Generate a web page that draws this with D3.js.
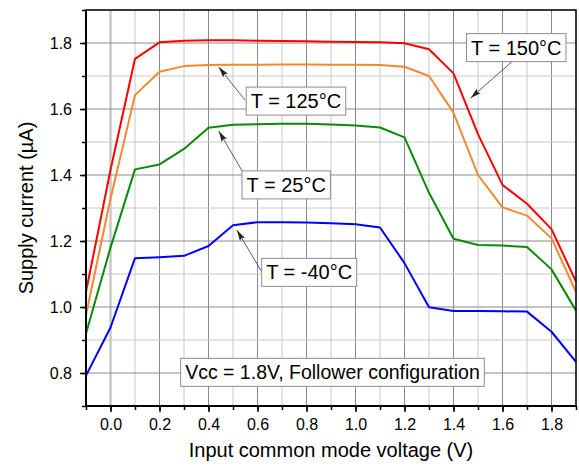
<!DOCTYPE html>
<html>
<head>
<meta charset="utf-8">
<script src="https://cdn.jsdelivr.net/npm/d3@7"></script>
<style>
  body { margin: 0; background: #fff; }
  svg text { font-family: "Liberation Sans", Arial, sans-serif; fill: #000; }
</style>
</head>
<body>
<div id="chart"></div>
<script>
// input common mode voltage (V)
const voltage = [-0.1, 0.0, 0.1, 0.2, 0.3, 0.4, 0.5, 0.6, 0.7, 0.8, 0.9, 1.0, 1.1, 1.2, 1.3, 1.4, 1.5, 1.6, 1.7, 1.8, 1.9];

// supply current (uA) per temperature
const i150 = [1.046, 1.415, 1.752, 1.802, 1.807, 1.808, 1.808, 1.807, 1.806, 1.805, 1.804, 1.803, 1.802, 1.799, 1.781, 1.708, 1.524, 1.370, 1.313, 1.236, 1.077];
const i125 = [0.976, 1.328, 1.642, 1.713, 1.730, 1.733, 1.734, 1.734, 1.735, 1.735, 1.734, 1.734, 1.733, 1.728, 1.700, 1.589, 1.400, 1.302, 1.277, 1.208, 1.046];
const i25  = [0.920, 1.180, 1.417, 1.432, 1.479, 1.543, 1.552, 1.554, 1.555, 1.555, 1.553, 1.550, 1.544, 1.514, 1.346, 1.207, 1.188, 1.186, 1.182, 1.114, 0.989];
const iM40 = [0.792, 0.938, 1.148, 1.151, 1.155, 1.185, 1.248, 1.257, 1.257, 1.256, 1.254, 1.251, 1.241, 1.133, 0.999, 0.988, 0.988, 0.987, 0.986, 0.925, 0.834];

const xTickLabels = ["0.0", "0.2", "0.4", "0.6", "0.8", "1.0", "1.2", "1.4", "1.6", "1.8"];
const yTickLabels = ["0.8", "1.0", "1.2", "1.4", "1.6", "1.8"];

const seriesNames  = ["T = 150°C", "T = 125°C", "T = 25°C", "T = -40°C"];
const seriesColors = ["#ff0000", "#f7872f", "#0a8a0a", "#0000ff"];

// callouts: box centre, arrow tail, arrow tip (data units)
const calloutBoxX  = [1.656, 0.757, 0.717, 0.811];
const calloutBoxY  = [1.786, 1.624, 1.370, 1.105];
const calloutTailX = [1.641, 0.549, 0.540, 0.618];
const calloutTailY = [1.745, 1.627, 1.409, 1.106];
const calloutTipX  = [1.470, 0.442, 0.442, 0.516];
const calloutTipY  = [1.633, 1.727, 1.533, 1.233];

const noteText = "Vcc = 1.8V, Follower configuration";
const noteX = 0.906, noteY = 0.802;

const W = 579, H = 470;
const margin = {top: 10, right: 3, bottom: 64, left: 86};

const svg = d3.select("#chart").append("svg")
  .attr("width", W).attr("height", H);

const x = d3.scaleLinear().domain([-0.1, 1.9]).range([margin.left, W - margin.right]);
const y = d3.scaleLinear().domain([0.7, 1.9]).range([H - margin.bottom, margin.top]);

const xMinor = d3.range(-1, 20).map(d => d / 10);
const yMinor = d3.range(7, 20).map(d => d / 10);
const xMajor = xTickLabels.map(Number);
const yMajor = yTickLabels.map(Number);
const isMajor = (arr, v) => arr.some(a => Math.abs(a - v) < 1e-6);

//  ---------------  GRID  ---------------
const grid = svg.append("g");
grid.selectAll(".vx").data(xMinor).enter().append("line")
  .attr("x1", d => x(d)).attr("x2", d => x(d))
  .attr("y1", y(0.7)).attr("y2", y(1.9))
  .attr("stroke", d => Math.abs(d) < 1e-6 ? "#c8c8c8" : (isMajor(xMajor, d) ? "#8a8a8a" : "#c8c8c8"))
  .attr("stroke-width", d => Math.abs(d) < 1e-6 ? 2.5 : 1);
grid.selectAll(".hy").data(yMinor).enter().append("line")
  .attr("x1", x(-0.1)).attr("x2", x(1.9))
  .attr("y1", d => y(d)).attr("y2", d => y(d))
  .attr("stroke", d => isMajor(yMajor, d) ? "#8a8a8a" : "#c8c8c8")
  .attr("stroke-width", 1);

//  ---------------  CURVES  ---------------
const seriesData = [i150, i125, i25, iM40];
const line = d3.line().x((d, i) => x(voltage[i])).y(d => y(d));
svg.append("g").selectAll("path").data(seriesData).enter().append("path")
  .attr("d", d => line(d))
  .attr("fill", "none")
  .attr("stroke", (d, i) => seriesColors[i])
  .attr("stroke-width", 2)
  .attr("stroke-linejoin", "round");

//  ---------------  AXES  ---------------
const xAxisMinor = d3.axisBottom(x).tickValues(xMinor).tickSize(4).tickFormat("");
const xAxis = d3.axisBottom(x).tickValues(xMajor).tickSize(6).tickPadding(7)
  .tickFormat((d, i) => xTickLabels[i]);
const yAxisMinor = d3.axisLeft(y).tickValues(yMinor).tickSize(4).tickFormat("");
const yAxis = d3.axisLeft(y).tickValues(yMajor).tickSize(6).tickPadding(8)
  .tickFormat((d, i) => yTickLabels[i]);

function styleAxis(g) {
  g.select(".domain").remove();
  g.selectAll(".tick line").attr("stroke", "#000").attr("stroke-width", 1.5);
  g.selectAll(".tick text").style("font-size", "16px").attr("fill", "#000");
}
svg.append("g").attr("transform", `translate(0,${y(0.7)})`).call(xAxisMinor).call(styleAxis);
svg.append("g").attr("transform", `translate(0,${y(0.7)})`).call(xAxis).call(styleAxis);
svg.append("g").attr("transform", `translate(${x(-0.1)},0)`).call(yAxisMinor).call(styleAxis);
svg.append("g").attr("transform", `translate(${x(-0.1)},0)`).call(yAxis).call(styleAxis);

// frame
svg.append("rect")
  .attr("x", x(-0.1)).attr("y", y(1.9))
  .attr("width", x(1.9) - x(-0.1)).attr("height", y(0.7) - y(1.9))
  .attr("fill", "none").attr("stroke", "#000").attr("stroke-width", 1.5);
svg.append("line")
  .attr("x1", x(-0.1)).attr("x2", x(-0.1)).attr("y1", y(1.9)).attr("y2", y(0.7))
  .attr("stroke", "#000").attr("stroke-width", 2);
svg.append("line")
  .attr("x1", x(-0.1)).attr("x2", x(1.9)).attr("y1", y(0.7)).attr("y2", y(0.7))
  .attr("stroke", "#000").attr("stroke-width", 2);

// axis titles
svg.append("text")
  .attr("x", (x(-0.1) + x(1.9)) / 2).attr("y", 457)
  .attr("text-anchor", "middle").style("font-size", "20px")
  .text("Input common mode voltage (V)");
svg.append("text")
  .attr("transform", `translate(33,${(y(0.7) + y(1.9)) / 2}) rotate(-90)`)
  .attr("text-anchor", "middle").style("font-size", "20px")
  .text("Supply current (µA)");

//  ---------------  CALLOUTS  ---------------
svg.append("defs").append("marker")
  .attr("id", "head").attr("viewBox", "0 0 10 10")
  .attr("refX", 10).attr("refY", 5)
  .attr("markerWidth", 11).attr("markerHeight", 6)
  .attr("markerUnits", "userSpaceOnUse")
  .attr("orient", "auto")
  .attr("preserveAspectRatio", "none")
  .append("path").attr("d", "M0,0 L10,5 L0,10 L2,5 Z").attr("fill", "#222");

function textBox(label, cx, cy, size) {
  const g = svg.append("g");
  const t = g.append("text")
    .attr("x", cx).attr("y", cy)
    .attr("text-anchor", "middle").attr("dominant-baseline", "central")
    .style("font-size", size + "px").text(label);
  const b = t.node().getBBox();
  g.insert("rect", "text")
    .attr("x", b.x - 4.5).attr("y", cy - 14)
    .attr("width", b.width + 9).attr("height", 28)
    .attr("fill", "#fff").attr("stroke", "#8c8c8c").attr("stroke-width", 1);
}

seriesNames.forEach((name, i) => {
  svg.append("line")
    .attr("x1", x(calloutTailX[i])).attr("y1", y(calloutTailY[i]))
    .attr("x2", x(calloutTipX[i])).attr("y2", y(calloutTipY[i]))
    .attr("stroke", "#333").attr("stroke-width", 0.8)
    .attr("marker-end", "url(#head)");
  textBox(name, x(calloutBoxX[i]), y(calloutBoxY[i]), 20);
});

textBox(noteText, x(noteX), y(noteY), 19.5);
</script>
</body>
</html>
